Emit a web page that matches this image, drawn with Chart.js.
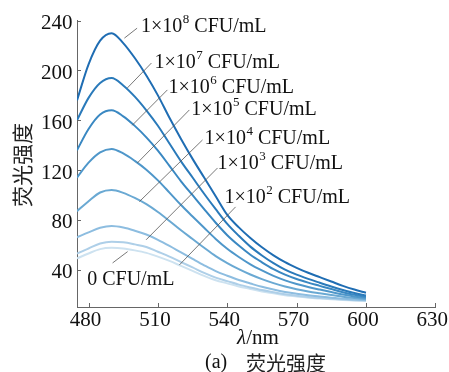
<!DOCTYPE html>
<html>
<head>
<meta charset="utf-8">
<script src="https://cdn.jsdelivr.net/npm/chart.js@4"></script>
<style>
  body { margin: 0; background: #fff; }
  canvas { display: block; }
</style>
</head>
<body>
<canvas id="spectra-chart" width="449" height="372"></canvas>
<script>
// wavelengths (nm)
const wavelengths = [475, 480, 485, 490, 495, 500, 505, 510, 515, 520, 525, 530, 535,
                     540, 545, 550, 555, 560, 565, 570, 575, 580, 585, 590, 595, 600]

// fluorescence intensity per concentration
const conc1e8 = [176, 205, 224, 230, 222, 210, 196, 180, 162, 145, 129, 114, 99,
                 84, 74, 65.5, 58, 51.5, 46, 41.5, 37.5, 34, 30.5, 27, 24, 21.5]
const conc1e7 = [160, 178, 190, 194, 188, 179, 168, 155.6, 141.3, 127, 114, 101, 88.6,
                 76.8, 67.2, 58.5, 51.4, 45.2, 40, 36, 32.6, 29.5, 26.5, 23.7, 21.2, 19.3]
const conc1e6 = [136, 153, 164.6, 168, 163.2, 155.5, 146.3, 135.6, 123.4, 111, 99.8, 88.6, 77.7,
                 67.7, 59.4, 52, 45.9, 40.4, 36, 32.5, 29.6, 27, 24.4, 21.9, 19.8, 18.2]
const conc1e5 = [114, 126, 134.3, 137, 133.4, 127.4, 120.3, 111.7, 101.9, 91.9, 82.7, 73.6, 64.7,
                 56.8, 50.2, 44.3, 39.4, 35, 31.4, 28.5, 26.1, 24, 22, 20.1, 18.5, 17.3]
const conc1e4 = [87, 95, 102, 104, 101.7, 97.6, 92.6, 86.3, 79.1, 71.6, 64.6, 57.6, 50.9,
                 45.3, 40.4, 36.1, 32.4, 29.2, 26.5, 24.3, 22.5, 21, 19.6, 18.3, 17.2, 16.3]
const conc1e3 = [66, 70, 73.6, 75, 73.8, 71.3, 68.2, 64, 59.1, 53.8, 48.6, 43.5, 38.8,
                 35.1, 31.7, 28.9, 26.2, 24, 22.1, 20.7, 19.4, 18.4, 17.5, 16.6, 16, 15.5]
const conc1e2 = [53, 57, 61, 62.5, 62, 60.3, 58.2, 54.4, 50.5, 46.1, 41.8, 37.4, 33.6,
                 30.8, 28, 25.7, 23.6, 21.9, 20.2, 19.1, 18.1, 17.3, 16.6, 16, 15.5, 15.2]
const conc0 = [49, 53, 56.5, 57.5, 57, 55.5, 53.5, 50.5, 47, 43, 39, 35, 31.5,
               29, 26.5, 24.5, 22.5, 21, 19.5, 18.5, 17.5, 16.8, 16.2, 15.7, 15.3, 15]

const seriesNames = ['1e8', '1e7', '1e6', '1e5', '1e4', '1e3', '1e2', '0']
const seriesValues = [conc1e8, conc1e7, conc1e6, conc1e5, conc1e4, conc1e3, conc1e2, conc0]
const seriesColors = ['#1f6db3', '#2a7aba', '#3a88c2', '#4f97ca', '#6aa9d3', '#8dbde0', '#aecfe8', '#cde2f0']

const xTicks = [480, 510, 540, 570, 600, 630]
const yTicks = [40, 80, 120, 160, 200, 240]

// label text: [mantissa, exponent]; leader line from/to in data units; text anchor (left, middle)
const labelTexts = [['1×10', '8'], ['1×10', '7'], ['1×10', '6'], ['1×10', '5'],
                    ['1×10', '4'], ['1×10', '3'], ['1×10', '2'], ['0', '']]
const leaderFrom = [[495.5, 226], [496.8, 186], [498.9, 156], [501.1, 125.7],
                    [502, 94.7], [504.9, 64], [519.3, 43.8], [490.4, 45.4]]
const leaderTo = [[501, 234], [507.2, 206], [514.1, 184.4], [523.6, 168.3],
                  [529.3, 144.2], [535.8, 121.7], [543.6, 90.4], [496.9, 54.5]]
const textAnchor = [[502.7, 235.5], [508.5, 206], [514.6, 186], [524.4, 168.5],
                    [530.2, 145.5], [535.8, 125], [538.8, 98], [479.4, 32]]

const serif = "'Liberation Serif', 'Times New Roman', serif"
const cjk = "'Noto Sans CJK SC', sans-serif"

const datasets = seriesValues.map((vals, i) => ({
    label: seriesNames[i],
    data: vals.map((v, j) => ({ x: wavelengths[j], y: v })),
    borderColor: seriesColors[i],
    backgroundColor: seriesColors[i],
    borderWidth: 2,
    pointRadius: 0,
    cubicInterpolationMode: 'monotone',
    fill: false
}))

const annotations = {
    id: 'annotations',
    afterDraw(chart) {
        const ctx = chart.ctx
        const xs = chart.scales.x
        const ys = chart.scales.y
        const area = chart.chartArea
        ctx.save()

        // inward tick marks
        ctx.strokeStyle = '#666'
        ctx.lineWidth = 1
        xTicks.forEach(t => {
            const px = Math.round(xs.getPixelForValue(t)) + 0.5
            ctx.beginPath()
            ctx.moveTo(px, area.bottom)
            ctx.lineTo(px, area.bottom - 4)
            ctx.stroke()
        })
        yTicks.forEach(t => {
            const py = Math.round(ys.getPixelForValue(t)) + 0.5
            ctx.beginPath()
            ctx.moveTo(area.left, py)
            ctx.lineTo(area.left + 4, py)
            ctx.stroke()
        })

        // leader lines
        ctx.strokeStyle = '#555'
        ctx.lineWidth = 0.8
        leaderFrom.forEach((p, i) => {
            ctx.beginPath()
            ctx.moveTo(xs.getPixelForValue(p[0]), ys.getPixelForValue(p[1]))
            ctx.lineTo(xs.getPixelForValue(leaderTo[i][0]), ys.getPixelForValue(leaderTo[i][1]))
            ctx.stroke()
        })

        // concentration labels
        ctx.fillStyle = '#111'
        ctx.textBaseline = 'middle'
        ctx.textAlign = 'left'
        labelTexts.forEach((t, i) => {
            let x = xs.getPixelForValue(textAnchor[i][0])
            const y = ys.getPixelForValue(textAnchor[i][1])
            ctx.font = '20px ' + serif
            ctx.fillText(t[0], x, y)
            x += ctx.measureText(t[0]).width
            if (t[1]) {
                ctx.font = '13px ' + serif
                ctx.fillText(t[1], x + 0.5, y - 7)
                x += ctx.measureText(t[1]).width + 0.5
            }
            ctx.font = '20px ' + serif
            ctx.fillText(' CFU/mL', x, y)
        })

        // y title
        ctx.save()
        ctx.translate(22, 165)
        ctx.rotate(-Math.PI / 2)
        ctx.textAlign = 'center'
        ctx.font = '21px ' + cjk
        ctx.fillStyle = '#222'
        ctx.fillText('荧光强度', 0, 0)
        ctx.restore()

        // x title: italic lambda + /nm
        ctx.textAlign = 'left'
        ctx.font = 'italic 21px ' + serif
        const lam = 'λ'
        const lw = ctx.measureText(lam).width
        ctx.font = '21px ' + serif
        const nw = ctx.measureText('/nm').width
        let sx = 258 - (lw + nw) / 2
        ctx.font = 'italic 21px ' + serif
        ctx.fillText(lam, sx, 338)
        ctx.font = '21px ' + serif
        ctx.fillText('/nm', sx + lw, 338)

        // caption
        ctx.font = '20px ' + serif
        ctx.fillText('(a)', 205, 363)
        ctx.font = '20px ' + cjk
        ctx.fillStyle = '#222'
        ctx.fillText('荧光强度', 246, 363)

        ctx.restore()
    }
}

const ctx = document.getElementById('spectra-chart')
const myChart = new Chart(ctx, {
    type: 'line',
    data: { datasets: datasets },
    options: {
        responsive: false,
        animation: false,
        devicePixelRatio: 1,
        layout: {
            padding: { left: 0, right: 13.7, top: 20.7, bottom: 0 }
        },
        scales: {
            x: {
                type: 'linear',
                min: 475,
                max: 630,
                afterBuildTicks: scale => { scale.ticks = xTicks.map(v => ({ value: v })) },
                afterFit: scale => {
                    scale.height = 65
                    scale.paddingLeft = 0
                    scale.paddingRight = 0
                },
                grid: { display: false, drawTicks: false },
                border: { display: true, color: '#666', width: 1 },
                ticks: {
                    autoSkip: false,
                    maxRotation: 0,
                    padding: 1,
                    labelOffset: -3,
                    color: '#111',
                    font: { family: serif, size: 21 }
                }
            },
            y: {
                min: 10,
                max: 240,
                afterBuildTicks: scale => { scale.ticks = yTicks.map(v => ({ value: v })) },
                afterFit: scale => {
                    scale.width = 77
                    scale.paddingTop = 0
                    scale.paddingBottom = 0
                },
                grid: { display: false, drawTicks: false },
                border: { display: true, color: '#666', width: 1 },
                ticks: {
                    padding: 4.5,
                    labelOffset: 3,
                    color: '#111',
                    font: { family: serif, size: 21 }
                }
            }
        },
        plugins: {
            legend: { display: false },
            tooltip: { enabled: false },
            title: { display: false }
        }
    },
    plugins: [annotations]
});
</script>
</body>
</html>
